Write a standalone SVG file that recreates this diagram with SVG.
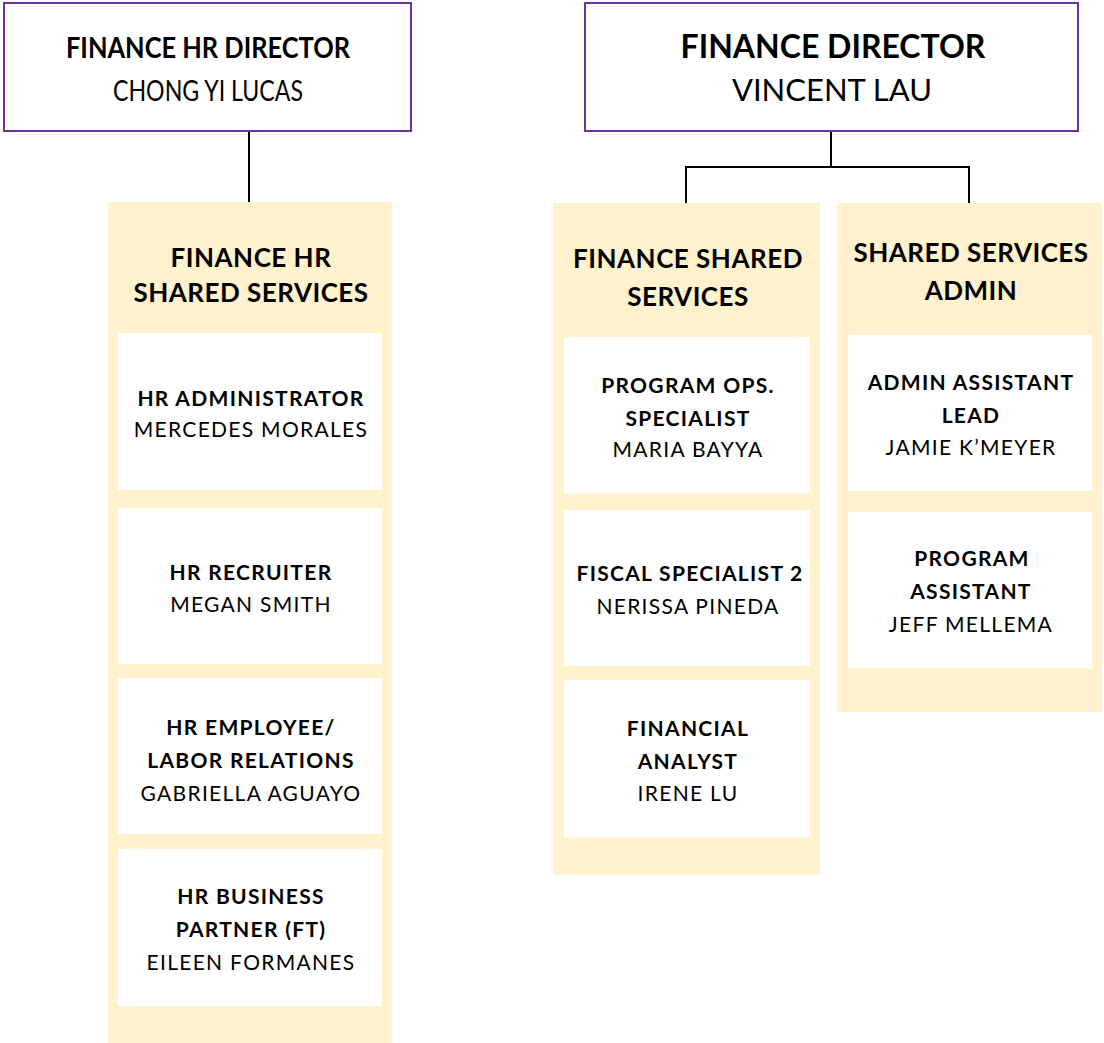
<svg xmlns="http://www.w3.org/2000/svg" width="1104" height="1043" viewBox="0 0 1104 1043">
<style>
.dir{fill:#fff;stroke:#7030A0;stroke-width:2}
.panel{fill:#FFF2CC}
.card{fill:#fff}
text{font-family:Lato,"Open Sans","Liberation Sans",sans-serif;fill:#000;text-anchor:middle}
.dt{font-size:32px;font-weight:bold}
.dn{font-size:31px}
.dts{font-size:28px;font-weight:bold}
.dns{font-size:28px}
.ph{font-size:26px;font-weight:bold;letter-spacing:0.5px}
.ct{font-size:21px;font-weight:bold;letter-spacing:1.3px}
.cn{font-size:21px;letter-spacing:1.3px}
.conn{fill:none;stroke:#000;stroke-width:2}
</style>
<rect width="1104" height="1043" fill="#fff"/>
<g id="connectors">
<path class="conn" d="M249,131 V202"/>
<path class="conn" d="M831,131 V167 M686,203 V167 H969 V203"/>
</g>
<g id="dir-hr">
<rect class="dir" x="4" y="3" width="407" height="128"/>
<text class="dts" x="208" y="58" textLength="284" lengthAdjust="spacingAndGlyphs">FINANCE HR DIRECTOR</text>
<text class="dns" x="208" y="101" textLength="190" lengthAdjust="spacingAndGlyphs">CHONG YI LUCAS</text>
</g>
<g id="dir-fin">
<rect class="dir" x="585" y="3" width="493" height="128"/>
<text class="dt" x="833" y="58">FINANCE DIRECTOR</text>
<text class="dn" x="832" y="101">VINCENT LAU</text>
</g>
<g id="panel-hr">
<rect class="panel" x="108" y="202" width="284" height="841"/>
<text class="ph" x="251" y="267">FINANCE HR</text>
<text class="ph" x="251" y="302">SHARED SERVICES</text>
</g>
<g id="card-hr-admin">
<rect class="card" x="118" y="333" width="264" height="157"/>
<text class="ct" x="251" y="406">HR ADMINISTRATOR</text>
<text class="cn" x="251" y="437">MERCEDES MORALES</text>
</g>
<g id="card-hr-recruiter">
<rect class="card" x="118" y="508" width="264" height="156"/>
<text class="ct" x="251" y="580">HR RECRUITER</text>
<text class="cn" x="251" y="612">MEGAN SMITH</text>
</g>
<g id="card-hr-elr">
<rect class="card" x="118" y="678" width="264" height="156"/>
<text class="ct" x="251" y="735">HR EMPLOYEE/</text>
<text class="ct" x="251" y="768">LABOR RELATIONS</text>
<text class="cn" x="251" y="801">GABRIELLA AGUAYO</text>
</g>
<g id="card-hr-bp">
<rect class="card" x="118" y="849" width="264" height="157"/>
<text class="ct" x="251" y="904">HR BUSINESS</text>
<text class="ct" x="251" y="937">PARTNER (FT)</text>
<text class="cn" x="251" y="970">EILEEN FORMANES</text>
</g>
<g id="panel-fin">
<rect class="panel" x="553" y="203" width="267" height="672"/>
<text class="ph" x="688" y="268">FINANCE SHARED</text>
<text class="ph" x="688" y="306">SERVICES</text>
</g>
<g id="card-fin-ops">
<rect class="card" x="564" y="337" width="246" height="156"/>
<text class="ct" x="688" y="393">PROGRAM OPS.</text>
<text class="ct" x="688" y="426">SPECIALIST</text>
<text class="cn" x="688" y="457">MARIA BAYYA</text>
</g>
<g id="card-fin-fiscal">
<rect class="card" x="564" y="510" width="246" height="156"/>
<text class="ct" x="690" y="581">FISCAL SPECIALIST 2</text>
<text class="cn" x="688" y="614">NERISSA PINEDA</text>
</g>
<g id="card-fin-analyst">
<rect class="card" x="564" y="680" width="246" height="157"/>
<text class="ct" x="688" y="736">FINANCIAL</text>
<text class="ct" x="688" y="769">ANALYST</text>
<text class="cn" x="688" y="801">IRENE LU</text>
</g>
<g id="panel-admin">
<rect class="panel" x="837" y="203" width="265" height="509"/>
<text class="ph" x="971" y="262">SHARED SERVICES</text>
<text class="ph" x="971" y="300">ADMIN</text>
</g>
<g id="card-admin-lead">
<rect class="card" x="848" y="335" width="244" height="156"/>
<text class="ct" x="971" y="390">ADMIN ASSISTANT</text>
<text class="ct" x="971" y="423">LEAD</text>
<text class="cn" x="971" y="455">JAMIE K’MEYER</text>
</g>
<g id="card-admin-pa">
<rect class="card" x="848" y="512" width="244" height="156"/>
<text class="ct" x="972" y="566">PROGRAM</text>
<text class="ct" x="971" y="599">ASSISTANT</text>
<text class="cn" x="971" y="632">JEFF MELLEMA</text>
</g>
</svg>
